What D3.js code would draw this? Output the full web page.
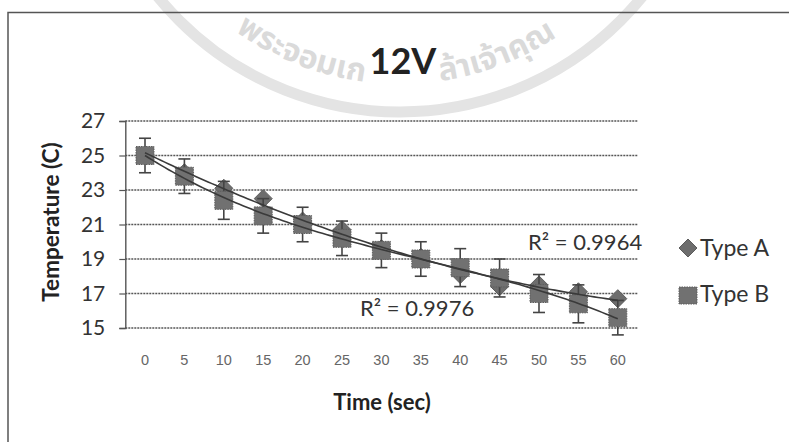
<!DOCTYPE html>
<html>
<head>
<meta charset="utf-8">
<script src="https://cdn.jsdelivr.net/npm/d3@7"></script>
<style>
  html, body { margin: 0; padding: 0; background: #fff; }
  svg { display: block; }
</style>
</head>
<body>
<svg id="chart" width="789" height="442"></svg>
<script>
// ---- data ----
const times = ["0","5","10","15","20","25","30","35","40","45","50","55","60"];
const typeA = [25.0, 24.0, 23.1, 22.5, 21.2, 20.7, 19.6, 19.1, 18.1, 17.4, 17.5, 17.1, 16.7];
const typeB = [25.0, 23.8, 22.4, 21.5, 21.0, 20.2, 19.5, 19.0, 18.5, 17.9, 17.0, 16.4, 15.6];
const errB  = [1.0, 1.0, 1.1, 1.0, 1.0, 1.0, 1.0, 1.0, 1.1, 1.1, 1.1, 1.1, 1.0];
const yTicks = [15, 17, 19, 21, 23, 25, 27];
const seriesNames = ["Type A", "Type B"];
const r2Labels = ["R\u00B2 = 0.9964", "R\u00B2 = 0.9976"];
const titleText = "12V";
const xTitle = "Time (sec)";
const yTitle = "Temperature (C)";
const watermarkParts = ["พระจอมเก", "ล้าเจ้าคุณ"];

// ---- layout ----
const svg = d3.select("#chart");
const plotL = 125.3, plotR = 637.5, plotT = 121, plotB = 328;
const x = d3.scaleBand().domain(times).range([plotL, plotR]);
const y = d3.scaleLinear().domain([15, 27]).range([plotB, plotT]);
const cx = t => x(t) + x.bandwidth() / 2;
const FONT = "Lato, 'Open Sans', sans-serif";

// watermark (light grey seal)
const wm = svg.append("g");
const wcX = 400, wcY = -200;
wm.append("circle").attr("cx", wcX).attr("cy", wcY).attr("r", 312)
  .attr("fill", "none").attr("stroke", "#e4e4e4").attr("stroke-width", 11);
const arcR = 284;
wm.append("path").attr("id", "wmArc")
  .attr("d", `M ${wcX - arcR},${wcY} A ${arcR},${arcR} 0 0 0 ${wcX + arcR},${wcY}`)
  .attr("fill", "none");
const bottomLen = Math.PI * arcR / 2;
[[watermarkParts[0], bottomLen - 36, "end"], [watermarkParts[1], bottomLen + 40, "start"]]
  .forEach(([txt, off, anchor]) => {
    wm.append("text")
      .attr("font-family", "'Noto Sans Thai','Noto Sans','DejaVu Sans',sans-serif")
      .attr("font-size", 32).attr("fill", "#dadada").attr("font-weight", 700)
      .append("textPath").attr("href", "#wmArc").attr("startOffset", off)
      .attr("text-anchor", anchor)
      .text(txt);
  });

// frame
svg.append("path").attr("d", "M8,442 L8,12.5 L789,12.5")
  .attr("fill", "none").attr("stroke", "#555").attr("stroke-width", 1.5);

// title
svg.append("text").attr("x", 403).attr("y", 74).attr("text-anchor", "middle")
  .attr("font-family", FONT).attr("font-weight", 700)
  .attr("font-size", 36).attr("fill", "#222").text(titleText);

// gridlines
svg.append("g").selectAll("line").data(yTicks).join("line")
  .attr("x1", plotL).attr("x2", plotR)
  .attr("y1", d => y(d)).attr("y2", d => y(d))
  .attr("stroke", "#555").attr("stroke-width", 1.4).attr("stroke-dasharray", "2,1");

// y axis
const yAxis = svg.append("g").attr("transform", `translate(${plotL},0)`)
  .call(d3.axisLeft(y).tickValues(yTicks).tickSize(6).tickPadding(14).tickFormat(d3.format("d")));
yAxis.select(".domain").attr("stroke", "#555").attr("stroke-width", 1.4);
yAxis.selectAll(".tick line").attr("stroke", "#555").attr("stroke-width", 1.2);
yAxis.selectAll("text").attr("font-family", FONT)
  .attr("font-size", 21).attr("fill", "#333");

// x axis labels
const xAxis = svg.append("g").attr("transform", `translate(0,${plotB})`)
  .call(d3.axisBottom(x).tickSize(0).tickPadding(27));
xAxis.select(".domain").remove();
xAxis.selectAll("text").attr("font-family", "'Liberation Sans', Arial, sans-serif")
  .attr("font-size", 14.5).attr("fill", "#666");

// axis titles
svg.append("text").attr("x", 382).attr("y", 410).attr("text-anchor", "middle")
  .attr("font-family", FONT).attr("font-weight", 700)
  .attr("font-size", 22).attr("fill", "#222").text(xTitle);
svg.append("text").attr("transform", "translate(59,222) rotate(-90)").attr("text-anchor", "middle")
  .attr("font-family", FONT).attr("font-weight", 700)
  .attr("font-size", 22.5).attr("fill", "#222").text(yTitle);

// markers
const diamond = r => `M0,${-r}L${r},0L0,${r}L${-r},0Z`;
const gA = svg.append("g");
gA.selectAll("path").data(typeA).join("path")
  .attr("d", diamond(9))
  .attr("transform", (d, i) => `translate(${cx(times[i])},${y(d)})`)
  .attr("fill", "#6d6d6d").attr("stroke", "#5c5c5c").attr("stroke-width", 1);

// error bars for B
const gE = svg.append("g").attr("stroke", "#444").attr("stroke-width", 1.6);
typeB.forEach((v, i) => {
  const px = cx(times[i]);
  gE.append("line").attr("x1", px).attr("x2", px).attr("y1", y(v + errB[i])).attr("y2", y(v - errB[i]));
  gE.append("line").attr("x1", px - 6).attr("x2", px + 6).attr("y1", y(v + errB[i])).attr("y2", y(v + errB[i]));
  gE.append("line").attr("x1", px - 6).attr("x2", px + 6).attr("y1", y(v - errB[i])).attr("y2", y(v - errB[i]));
});

const gB = svg.append("g");
gB.selectAll("rect").data(typeB).join("rect")
  .attr("x", (d, i) => cx(times[i]) - 9).attr("y", d => y(d) - 9)
  .attr("width", 18).attr("height", 18)
  .attr("fill", "#717171").attr("stroke", "#5e5e5e").attr("stroke-width", 1).attr("stroke-dasharray", "1.5,1");

// polynomial trendlines (least squares)
function polyfit(xs, ys, order) {
  const n = order + 1;
  const A = Array.from({length: n}, () => new Array(n + 1).fill(0));
  for (let r = 0; r < n; r++) {
    for (let c = 0; c < n; c++) A[r][c] = d3.sum(xs, xv => Math.pow(xv, r + c));
    A[r][n] = d3.sum(xs, (xv, k) => ys[k] * Math.pow(xv, r));
  }
  for (let i = 0; i < n; i++) {
    let m = i;
    for (let k = i + 1; k < n; k++) if (Math.abs(A[k][i]) > Math.abs(A[m][i])) m = k;
    [A[i], A[m]] = [A[m], A[i]];
    for (let k = i + 1; k < n; k++) {
      const f = A[k][i] / A[i][i];
      for (let j = i; j <= n; j++) A[k][j] -= f * A[i][j];
    }
  }
  const coef = new Array(n).fill(0);
  for (let i = n - 1; i >= 0; i--) {
    let s = A[i][n];
    for (let j = i + 1; j < n; j++) s -= A[i][j] * coef[j];
    coef[i] = s / A[i][i];
  }
  return xv => coef.reduce((acc, c, k) => acc + c * Math.pow(xv, k), 0);
}
const tNum = times.map(Number);
const fitA = polyfit(tNum, typeA, 2);
const fitB = polyfit(tNum, typeB, 3);
const tScale = d3.scaleLinear().domain([0, 60]).range([cx("0"), cx("60")]);
const line = f => d3.line().x(t => tScale(t)).y(t => y(f(t)))(d3.range(0, 60.01, 0.5));
svg.append("path").attr("d", line(fitA)).attr("fill", "none").attr("stroke", "#3a3a3a").attr("stroke-width", 1.6);
svg.append("path").attr("d", line(fitB)).attr("fill", "none").attr("stroke", "#3a3a3a").attr("stroke-width", 1.6);

// R² labels
svg.append("text").attr("x", 528).attr("y", 250)
  .attr("font-family", FONT).attr("font-size", 22).attr("fill", "#333")
  .text(r2Labels[0]);
svg.append("text").attr("x", 360).attr("y", 316)
  .attr("font-family", FONT).attr("font-size", 22).attr("fill", "#333")
  .text(r2Labels[1]);

// legend
const lg = svg.append("g");
lg.append("path").attr("d", diamond(9)).attr("transform", "translate(688,248)")
  .attr("fill", "#6d6d6d").attr("stroke", "#5c5c5c");
lg.append("rect").attr("x", 679).attr("y", 287).attr("width", 18).attr("height", 17)
  .attr("fill", "#717171").attr("stroke", "#5e5e5e").attr("stroke-dasharray", "1.5,1");
lg.append("text").attr("x", 700).attr("y", 256).attr("font-family", FONT)
  .attr("font-size", 23).attr("fill", "#333").text(seriesNames[0]);
lg.append("text").attr("x", 700).attr("y", 302).attr("font-family", FONT)
  .attr("font-size", 23).attr("fill", "#333").text(seriesNames[1]);
</script>
</body>
</html>
